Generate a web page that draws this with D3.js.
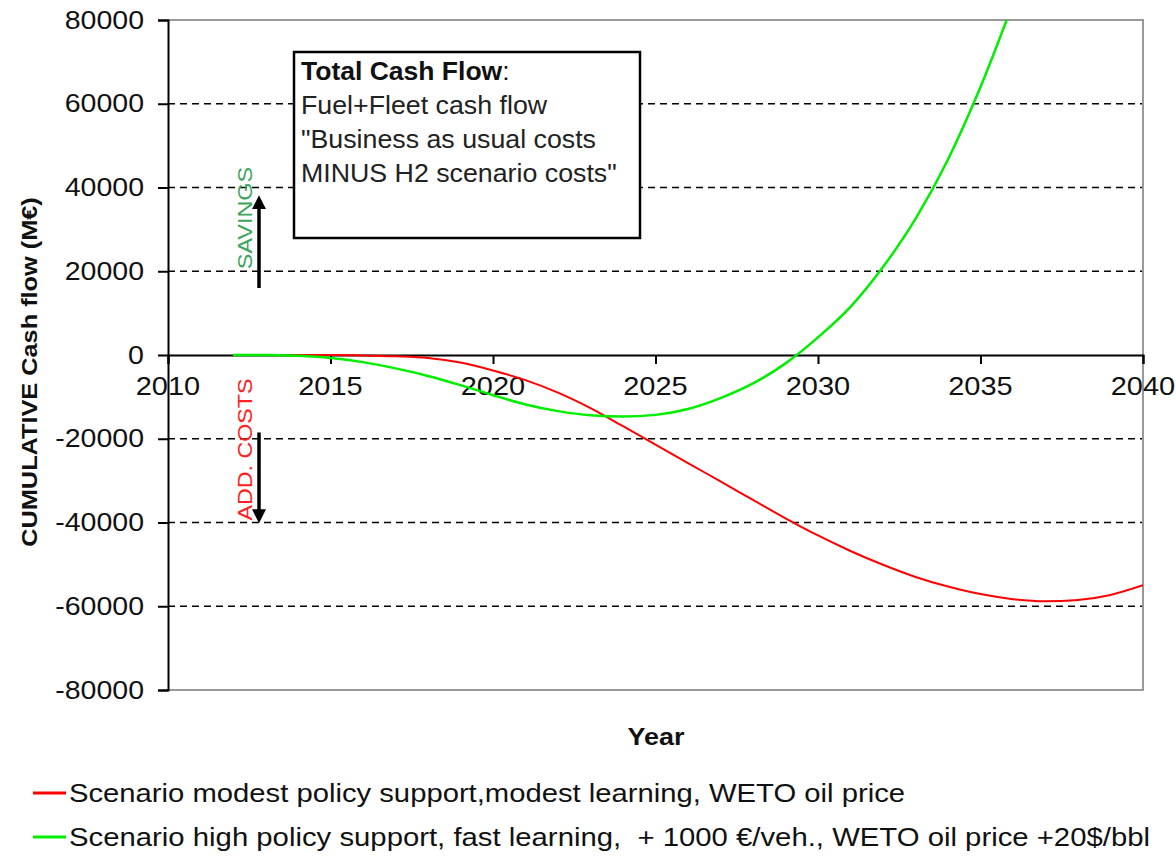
<!DOCTYPE html>
<html><head><meta charset="utf-8">
<script src="https://cdn.jsdelivr.net/npm/d3@7"></script>
<style>
body{margin:0;background:#fff;}
text{font-family:Arial,"Liberation Sans",sans-serif;white-space:pre;}
</style></head>
<body><svg id="c" width="1176" height="856"></svg>
<script>
const years = [2012,2013,2014,2015,2016,2017,2018,2019,2020,2021,2022,2023,2024,2025,2026,2027,2028,2029,2030,2031,2032,2033,2034,2035,2036,2037,2038,2039,2040];
const redValues = [0,0,0,0,-100,-300,-700,-1800,-3700,-6000,-9000,-12700,-17000,-21400,-25800,-30200,-34600,-39000,-43100,-46800,-50100,-53000,-55300,-57100,-58300,-58800,-58500,-57300,-55000];
const greenYears = [2012,2013,2014,2015,2016,2017,2018,2019,2020,2021,2022,2023,2024,2025,2026,2027,2028,2029,2030,2031,2032,2033,2034,2035,2036];
const greenValues = [0,0,-200,-700,-1700,-3200,-5000,-7200,-9600,-11800,-13400,-14400,-14700,-14300,-12900,-10300,-6800,-2000,4200,11500,21000,32500,46700,64000,84000];
const xTicks = [2010,2015,2020,2025,2030,2035,2040];
const yTicks = [-80000,-60000,-40000,-20000,0,20000,40000,60000,80000];
const gridValues = [-60000,-40000,-20000,20000,40000,60000];
const seriesNames = ["Scenario modest policy support,modest learning, WETO oil price",
  "Scenario high policy support, fast learning,  + 1000 €/veh., WETO oil price +20$/bbl"];
const seriesColors = ["#ff0000","#00ee00"];
const boxLines = ["Fuel+Fleet cash flow","\"Business as usual costs","MINUS H2 scenario costs\""];

const svg = d3.select("#c");
const L=168, R=1143, T=20, B=690;
const x = d3.scaleLinear().domain([2010,2040]).range([L,R]);
const y = d3.scaleLinear().domain([-80000,80000]).range([B,T]);

function stretch(sel, f){
  sel.each(function(){
    const w = this.getComputedTextLength();
    this.setAttribute("textLength", (w*f).toFixed(1));
    this.setAttribute("lengthAdjust","spacingAndGlyphs");
  });
}

// grid
svg.append("g").selectAll("line").data(gridValues).join("line")
  .attr("x1",L).attr("x2",R).attr("y1",d=>y(d)).attr("y2",d=>y(d))
  .attr("stroke","#000").attr("stroke-width",1.6).attr("stroke-dasharray","7,5");

// border (gray) top/right/bottom
svg.append("path").attr("d",`M${L},${T}H${R}V${B}H${L}`).attr("fill","none")
  .attr("stroke","#999").attr("stroke-width",2);

// x tick labels (drawn under axis lines)
const xl = svg.append("g").selectAll("text").data(xTicks).join("text")
  .attr("x",d=>x(d)).attr("y",y(0)+40).attr("text-anchor","middle")
  .attr("font-size",25).attr("fill","#111").text(d=>d);
stretch(xl,1.16);

// y axis
const yAxis = d3.axisLeft(y).tickValues(yTicks).tickSize(10).tickPadding(14).tickFormat(d=>d);
const ya = svg.append("g").attr("transform",`translate(${L},0)`).call(yAxis);
ya.select(".domain").attr("stroke","#000").attr("stroke-width",2);
ya.selectAll(".tick line").attr("stroke","#000").attr("stroke-width",2);
ya.selectAll(".tick text").attr("font-size",25).attr("fill","#111").attr("font-family","Arial,'Liberation Sans',sans-serif");
stretch(ya.selectAll(".tick text"),1.14);

// x axis at zero
const xAxis = d3.axisBottom(x).tickValues(xTicks).tickSize(9).tickFormat("");
const xa = svg.append("g").attr("transform",`translate(0,${y(0)})`).call(xAxis);
xa.select(".domain").attr("stroke","#000").attr("stroke-width",2);
xa.selectAll(".tick line").attr("stroke","#000").attr("stroke-width",2);

// clip
svg.append("clipPath").attr("id","clip").append("rect").attr("x",L).attr("y",T).attr("width",R-L).attr("height",B-T);

const line = d3.line().x(d=>x(d[0])).y(d=>y(d[1])).curve(d3.curveMonotoneX);
svg.append("path").attr("clip-path","url(#clip)").datum(years.map((yr,i)=>[yr,redValues[i]]))
  .attr("d",line).attr("fill","none").attr("stroke",seriesColors[0]).attr("stroke-width",2);
svg.append("path").attr("clip-path","url(#clip)").datum(greenYears.map((yr,i)=>[yr,greenValues[i]]))
  .attr("d",line).attr("fill","none").attr("stroke",seriesColors[1]).attr("stroke-width",2.5);

// annotation box
svg.append("rect").attr("x",294).attr("y",52).attr("width",346).attr("height",186)
  .attr("fill","#fff").attr("stroke","#000").attr("stroke-width",2.5);
const bt = svg.append("text").attr("x",301).attr("y",80).attr("font-size",25).attr("fill","#111");
bt.append("tspan").attr("font-weight","bold").text("Total Cash Flow");
bt.append("tspan").text(":");
stretch(bt,1.06);
const bl = svg.append("g").selectAll("text").data(boxLines).join("text")
  .attr("x",301).attr("y",(d,i)=>114+i*34).attr("font-size",25).attr("fill","#222").text(d=>d);
stretch(bl,1.07);

// arrows
const defs = svg.append("defs");
defs.append("marker").attr("id","ah").attr("viewBox","0 0 10 10").attr("refX",5).attr("refY",5)
  .attr("markerWidth",4).attr("markerHeight",4).attr("orient","auto")
  .append("path").attr("d","M0,0L10,5L0,10z").attr("fill","#000");
svg.append("line").attr("x1",259).attr("x2",259).attr("y1",y(16000)).attr("y2",y(36500))
  .attr("stroke","#000").attr("stroke-width",3.5).attr("marker-end","url(#ah)");
svg.append("line").attr("x1",259).attr("x2",259).attr("y1",y(-18500)).attr("y2",y(-38500))
  .attr("stroke","#000").attr("stroke-width",3.5).attr("marker-end","url(#ah)");
const sv = svg.append("text").attr("transform",`translate(252,${y(20500)}) rotate(-90)`)
  .attr("font-size",20).attr("fill","#3aa55c").text("SAVINGS");
stretch(sv,1.17);
const ac = svg.append("text").attr("transform",`translate(252,${y(-39500)}) rotate(-90)`)
  .attr("font-size",20).attr("fill","#ff2020").text("ADD. COSTS");
stretch(ac,1.16);

// axis titles
const xt = svg.append("text").attr("x",656).attr("y",745).attr("text-anchor","middle")
  .attr("font-size",23).attr("font-weight","bold").attr("fill","#111").text("Year");
stretch(xt,1.17);
const yt = svg.append("text").attr("transform",`translate(37,372) rotate(-90)`).attr("text-anchor","middle")
  .attr("font-size",22).attr("font-weight","bold").attr("fill","#111").text("CUMULATIVE Cash flow (M€)");
stretch(yt,1.15);

// legend
const lg = svg.append("g").selectAll("g").data(seriesNames).join("g")
  .attr("transform",(d,i)=>`translate(0,${793+i*44})`);
lg.append("line").attr("x1",33).attr("x2",66).attr("y1",0).attr("y2",0)
  .attr("stroke",(d,i)=>seriesColors[i]).attr("stroke-width",3);
const lt = lg.append("text").attr("x",69).attr("y",9).attr("font-size",25).attr("fill","#111").text(d=>d);
const legendWidths = [836, 1081];
lt.each(function(d,i){ this.setAttribute("textLength", legendWidths[i]); this.setAttribute("lengthAdjust","spacingAndGlyphs"); });
</script></body></html>
